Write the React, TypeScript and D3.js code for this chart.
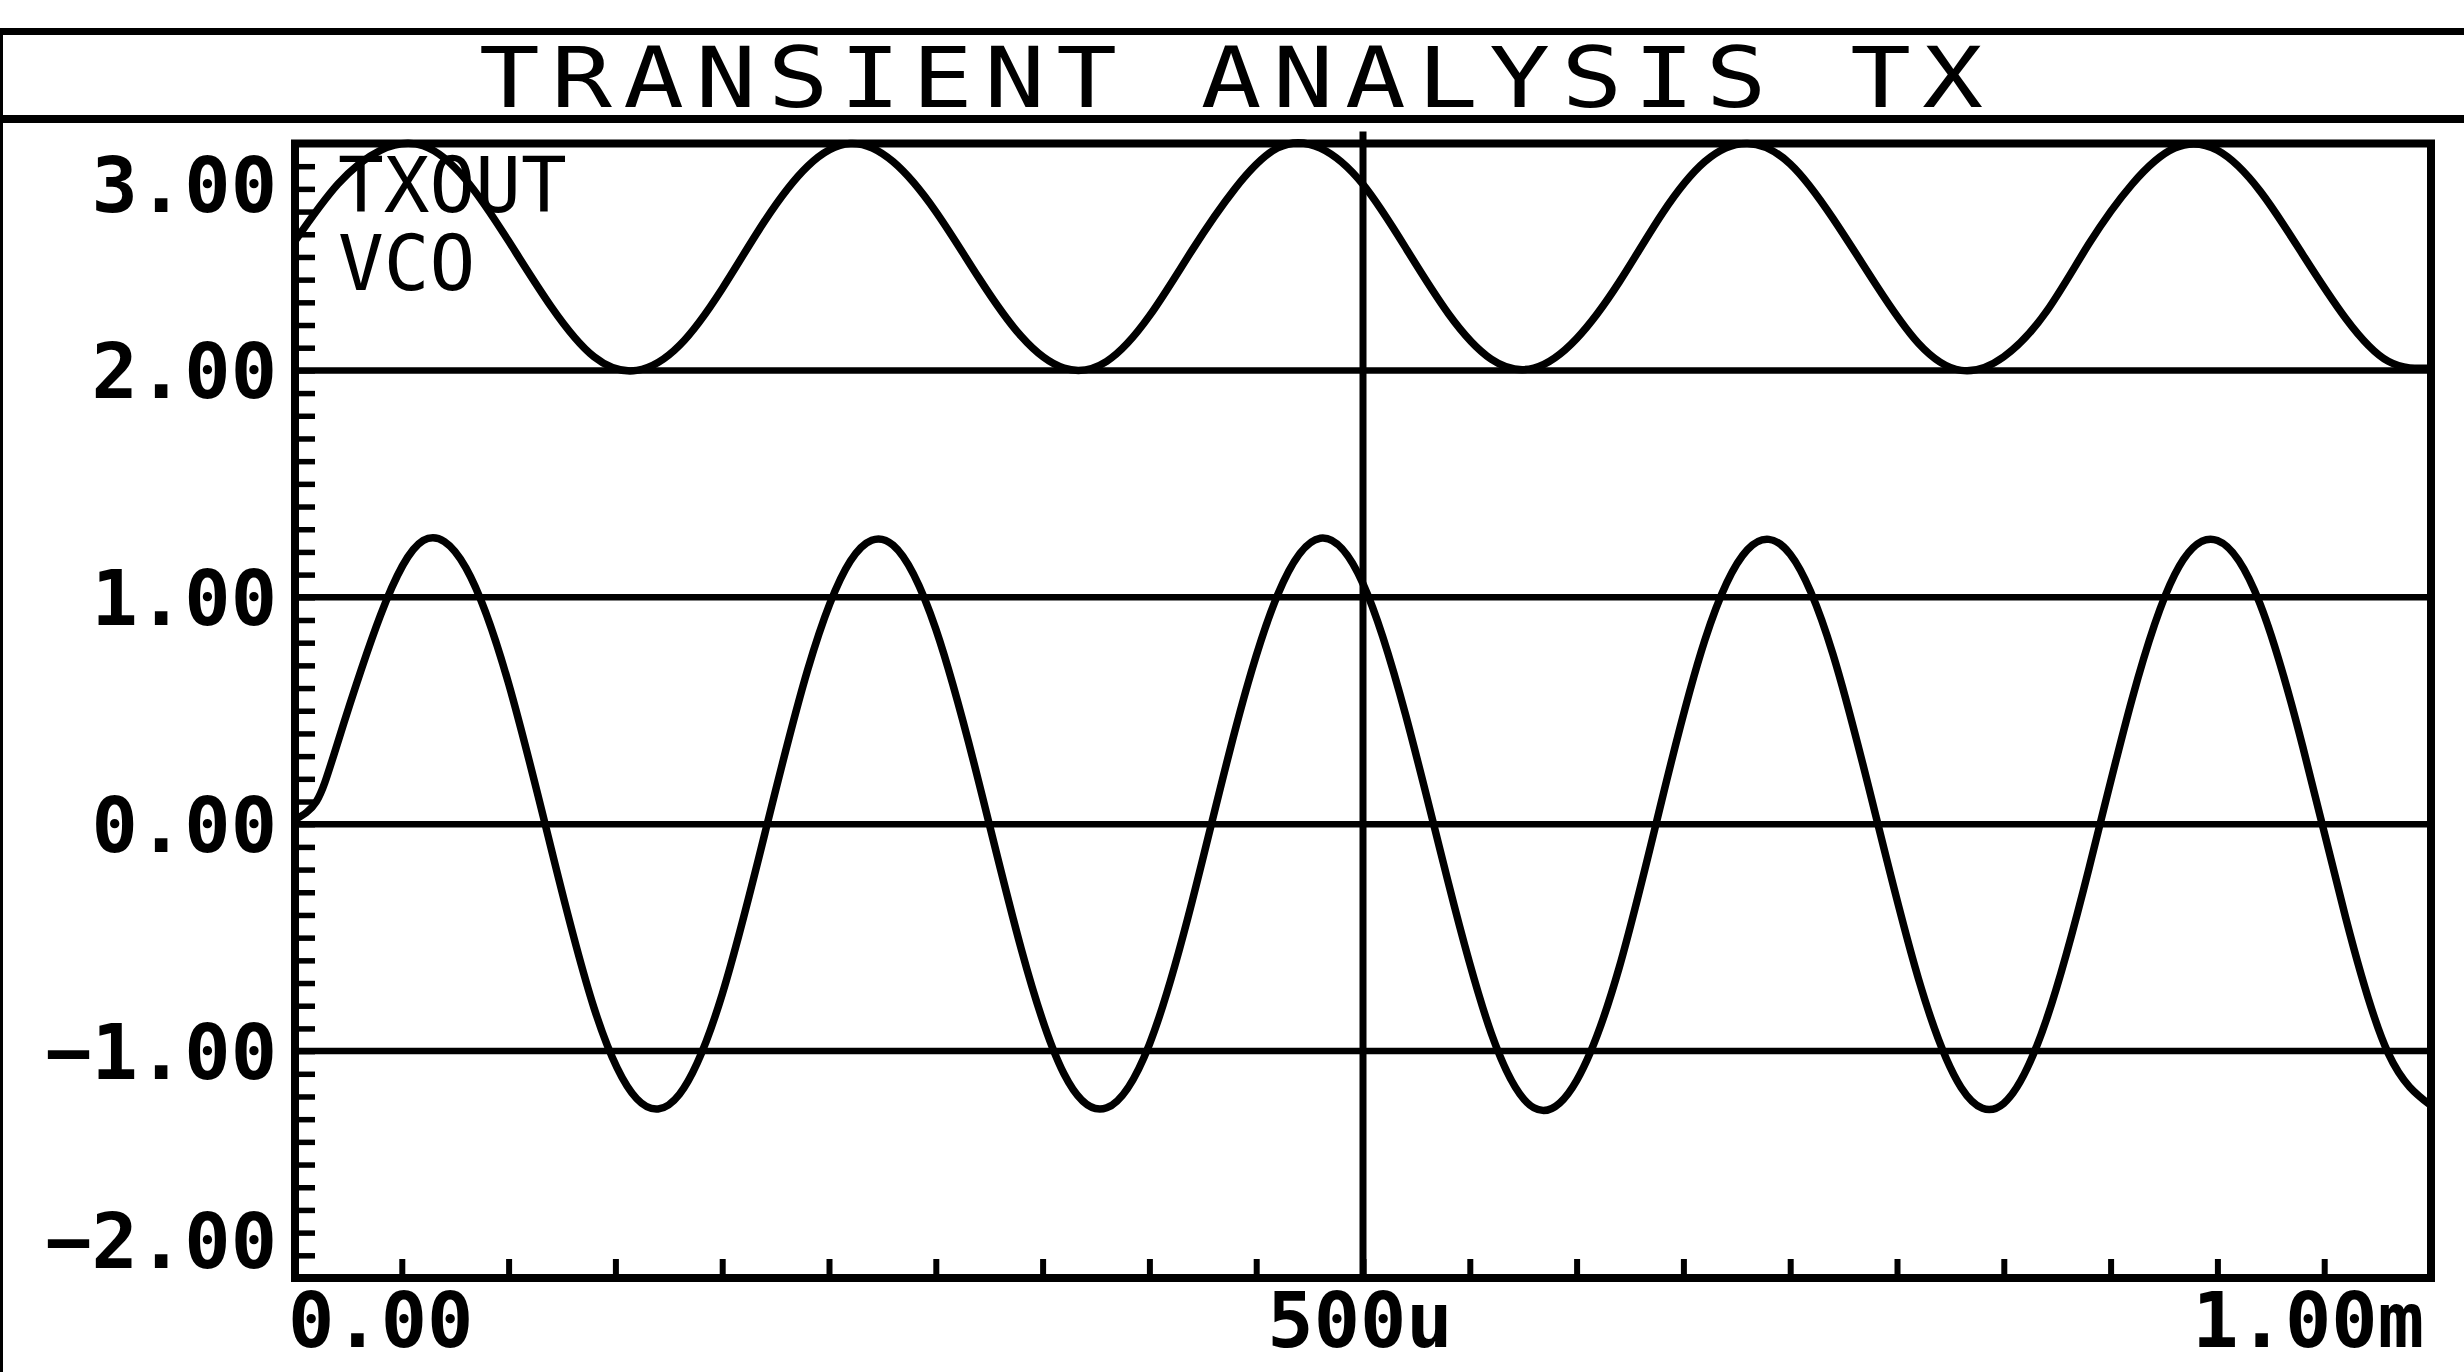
import { useEffect, useRef } from 'react';
import * as d3 from 'd3';

const W = 2464;
const H = 1372;

// time axis in microseconds
const TX_TIMES = [
  0, 10, 20, 40, 60, 80, 100, 120, 140, 160, 180, 200, 220, 240, 260, 280, 300, 320, 340, 360, 380, 400,
  420, 440, 460, 480, 500, 520, 540, 560, 580, 600, 620, 640, 660, 680, 700, 720, 740, 760, 780, 800, 820,
  840, 860, 880, 900, 920, 940, 960, 980, 1000,
];
const TXOUT = [
  0.02, 0.1, 0.36, 0.92, 1.25, 1.13, 0.62, -0.11, -0.81, -1.21, -1.19, -0.75, -0.04, 0.68, 1.16, 1.23, 0.86,
  0.19, -0.55, -1.1, -1.25, -0.97, -0.34, 0.41, 1.01, 1.26, 1.06, 0.48, -0.26, -0.92, -1.25, -1.13, -0.63,
  0.11, 0.81, 1.21, 1.19, 0.75, 0.04, -0.68, -1.16, -1.23, -0.86, -0.19, 0.55, 1.1, 1.25, 0.97, 0.34, -0.41,
  -1.01, -1.24,
];

const VCO_TIMES = [
  0, 20, 40, 60, 80, 100, 120, 140, 160, 180, 200, 220, 240, 260, 280, 300, 320, 340, 360, 380, 400, 420,
  440, 460, 480, 500, 520, 540, 560, 580, 600, 620, 640, 660, 680, 700, 720, 740, 760, 780, 800, 820, 840,
  860, 880, 900, 920, 940, 960, 980, 1000,
];
const VCO = [
  2.57, 2.82, 2.97, 2.99, 2.84, 2.57, 2.28, 2.06, 2.0, 2.11, 2.36, 2.66, 2.9, 3.0, 2.92, 2.7, 2.41, 2.15,
  2.01, 2.04, 2.24, 2.53, 2.8, 2.98, 2.98, 2.82, 2.54, 2.25, 2.05, 2.01, 2.14, 2.39, 2.69, 2.92, 3.0, 2.91,
  2.67, 2.38, 2.12, 2.0, 2.06, 2.26, 2.56, 2.82, 2.98, 2.97, 2.79, 2.51, 2.23, 2.04, 2.01,
];

const Y_TICKS = [3, 2, 1, 0, -1, -2];
const Y_LABELS = ['3.00', '2.00', '1.00', '0.00', '−1.00', '−2.00'];
const Y_GRID = [2, 1, 0, -1];
const X_TICKS = [0, 500, 1000];
const X_LABELS = ['0.00', '500u', '1.00m'];
const LEGEND = ['TXOUT', 'VCO'];
const TITLE = 'TRANSIENT ANALYSIS TX';

const FONT = "'DejaVu Sans Mono', monospace";

export default function App() {
  const svgRef = useRef<SVGSVGElement>(null);

  useEffect(() => {
    if (!svgRef.current) return;
    const svg = d3.select(svgRef.current);
    svg.selectAll('*').remove();

    const m = { left: 295, right: 2431, top: 143.5, bottom: 1278 };
    const x = d3.scaleLinear().domain([0, 1000]).range([m.left, m.right]);
    const y = d3.scaleLinear().domain([-2, 3]).range([m.bottom, m.top]);

    svg.append('rect').attr('width', W).attr('height', H).attr('fill', '#fff');

    // outer window frame + title bar
    svg.append('line').attr('x1', 0).attr('x2', W).attr('y1', 31.5).attr('y2', 31.5)
      .attr('stroke', '#000').attr('stroke-width', 7);
    svg.append('line').attr('x1', 0).attr('x2', W).attr('y1', 119).attr('y2', 119)
      .attr('stroke', '#000').attr('stroke-width', 8);
    svg.append('line').attr('x1', 1.5).attr('x2', 1.5).attr('y1', 28).attr('y2', H)
      .attr('stroke', '#000').attr('stroke-width', 3);

    // title, glyphs widened a little like the plotter font
    const stretch = 1.2;
    svg.append('g')
      .attr('transform', `translate(479,107) scale(${stretch},1)`)
      .append('text')
      .attr('x', 0).attr('y', 0)
      .attr('font-family', FONT).attr('font-size', 84)
      .attr('textLength', 1504 / stretch).attr('lengthAdjust', 'spacing')
      .attr('fill', '#000')
      .text(TITLE);

    // grid lines
    Y_GRID.forEach((v) => {
      svg.append('line').attr('x1', m.left).attr('x2', m.right).attr('y1', y(v)).attr('y2', y(v))
        .attr('stroke', '#000').attr('stroke-width', 6.5);
    });
    svg.append('line').attr('x1', x(500)).attr('x2', x(500)).attr('y1', m.top - 12).attr('y2', m.bottom)
      .attr('stroke', '#000').attr('stroke-width', 7);

    // minor ticks
    const yMinor = d3.range(-20, 31).map((i) => i / 10);
    const yAx = svg.append('g')
      .attr('transform', `translate(${m.left},0)`)
      .call(d3.axisRight(y).tickValues(yMinor).tickSize(20).tickFormat(() => ''));
    yAx.select('.domain').remove();
    yAx.selectAll('text').remove();
    yAx.selectAll('line').attr('stroke', '#000').attr('stroke-width', 5.5);

    const xMinor = d3.range(0, 21).map((i) => i * 50);
    const xAx = svg.append('g')
      .attr('transform', `translate(0,${m.bottom})`)
      .call(d3.axisTop(x).tickValues(xMinor).tickSize(19).tickFormat(() => ''));
    xAx.select('.domain').remove();
    xAx.selectAll('text').remove();
    xAx.selectAll('line').attr('stroke', '#000').attr('stroke-width', 6);

    // plot frame
    svg.append('rect')
      .attr('x', m.left).attr('y', m.top)
      .attr('width', m.right - m.left).attr('height', m.bottom - m.top)
      .attr('fill', 'none').attr('stroke', '#000').attr('stroke-width', 8);

    // traces
    const line = d3.line<[number, number]>()
      .x((d) => x(d[0]))
      .y((d) => y(d[1]))
      .curve(d3.curveNatural);

    const series: [number, number][][] = [
      TX_TIMES.map((t, i) => [t, TXOUT[i]]),
      VCO_TIMES.map((t, i) => [t, VCO[i]]),
    ];
    series.forEach((pts) => {
      svg.append('path')
        .attr('d', line(pts))
        .attr('fill', 'none')
        .attr('stroke', '#000')
        .attr('stroke-width', 7.5)
        .attr('stroke-linejoin', 'round')
        .attr('stroke-linecap', 'round');
    });

    // legend names
    LEGEND.forEach((name, i) => {
      svg.append('text')
        .attr('x', 338).attr('y', 212 + i * 78)
        .attr('font-family', FONT).attr('font-size', 76)
        .attr('fill', '#000')
        .text(name);
    });

    // y labels (clamped inside the frame at the ends)
    Y_TICKS.forEach((v, i) => {
      const cy = Math.min(Math.max(y(v), m.top + 40), m.bottom - 38);
      svg.append('text')
        .attr('x', 277).attr('y', cy + 28)
        .attr('text-anchor', 'end')
        .attr('font-family', FONT).attr('font-weight', 'bold').attr('font-size', 77)
        .attr('fill', '#000')
        .text(Y_LABELS[i]);
    });

    // x labels
    const anchors = ['start', 'middle', 'end'];
    const offsets = [-7, -3, -7];
    X_TICKS.forEach((v, i) => {
      svg.append('text')
        .attr('x', x(v) + offsets[i]).attr('y', 1347)
        .attr('text-anchor', anchors[i])
        .attr('font-family', FONT).attr('font-weight', 'bold').attr('font-size', 77)
        .attr('fill', '#000')
        .text(X_LABELS[i]);
    });
  }, []);

  return (
    <svg
      ref={svgRef}
      width={W}
      height={H}
      style={{ position: 'absolute', left: 0, top: 0, display: 'block' }}
    />
  );
}
